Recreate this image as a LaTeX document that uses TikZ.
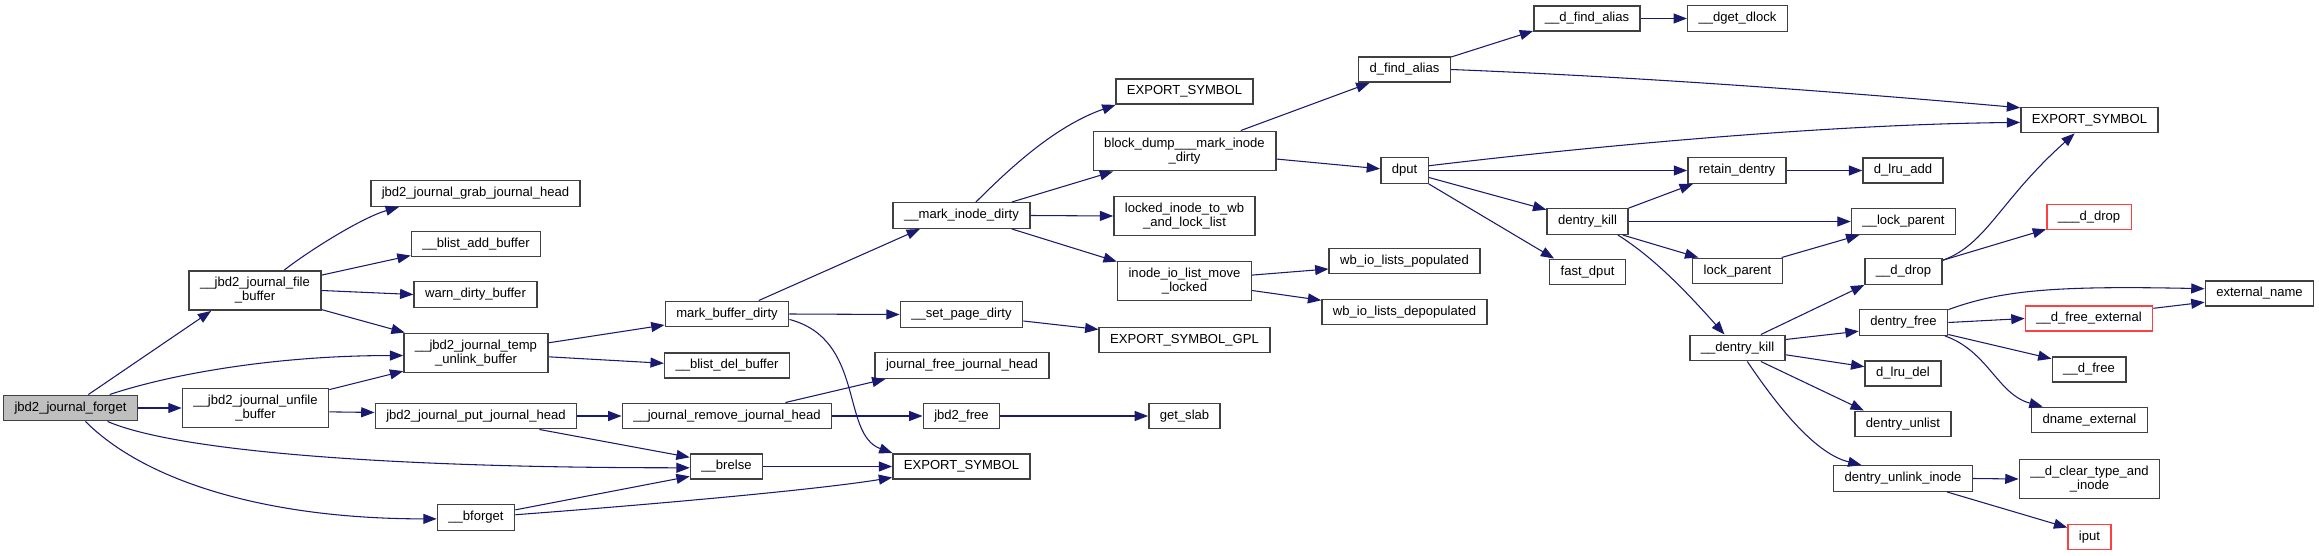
\documentclass[tikz,border=0pt]{standalone}
\usepackage{fontspec}
\setsansfont{Liberation Sans}
\usepackage{tikz}
\usetikzlibrary{arrows.meta}
\definecolor{edgeblue}{RGB}{25,25,112}
\definecolor{boxline}{RGB}{64,64,64}
\definecolor{rootfill}{RGB}{191,191,191}
\definecolor{extred}{RGB}{255,64,64}

\begin{document}
\begin{tikzpicture}[x=0.75pt,y=-0.75pt,font=\fontsize{9.8}{10.5}\sffamily,
  fn/.style={draw=boxline,line width=1.1pt,fill=white,rectangle,inner xsep=8.25pt,
    inner ysep=5pt,minimum height=19pt,align=center},
  ext/.style={fn,draw=extred},
  call/.style={draw=edgeblue,line width=0.8pt,-{Triangle[length=10pt,width=7.5pt]}}]
  \useasboundingbox (0,0) rectangle (2319,556);
  % ---- caller ----
  \node[fn,fill=rootfill] (fg) at (70.5,408) {jbd2\_journal\_forget};
  % ---- first level ----
  \node[fn] (fb) at (255,290.5) {\_\_jbd2\_journal\_file\\\_buffer};
  \node[fn] (uf) at (255.5,408) {\_\_jbd2\_journal\_unfile\\\_buffer};
  % ---- second level ----
  \node[fn] (gjh) at (475.5,193.5) {jbd2\_journal\_grab\_journal\_head};
  \node[fn] (bab) at (476,244) {\_\_blist\_add\_buffer};
  \node[fn] (wdb) at (475.5,294.5) {warn\_dirty\_buffer};
  \node[fn] (tu) at (476,353) {\_\_jbd2\_journal\_temp\\\_unlink\_buffer};
  \node[fn] (pjh) at (476,416) {jbd2\_journal\_put\_journal\_head};
  \node[fn] (bfg) at (476,517.5) {\_\_bforget};
  % ---- third level ----
  \node[fn] (mbd) at (727,314) {mark\_buffer\_dirty};
  \node[fn] (bdb) at (727,365.5) {\_\_blist\_del\_buffer};
  \node[fn] (rjh) at (727,416) {\_\_journal\_remove\_journal\_head};
  \node[fn] (brl) at (726.5,466.5) {\_\_brelse};
  % ---- fourth level ----
  \node[fn] (mid) at (961.5,215.5) {\_\_mark\_inode\_dirty};
  \node[fn] (spd) at (961.5,314.5) {\_\_set\_page\_dirty};
  \node[fn] (fjh) at (962,365.5) {journal\_free\_journal\_head};
  \node[fn] (jfree) at (961.5,416) {jbd2\_free};
  \node[fn] (esA) at (961.5,466.5) {EXPORT\_SYMBOL};
  % ---- fifth level ----
  \node[fn] (esB) at (1184.5,91.5) {EXPORT\_SYMBOL};
  \node[fn] (bdm) at (1184.5,151) {block\_dump\_\_\_mark\_inode\\\_dirty};
  \node[fn] (lit) at (1184.5,216) {locked\_inode\_to\_wb\\\_and\_lock\_list};
  \node[fn] (iom) at (1184.5,281) {inode\_io\_list\_move\\\_locked};
  \node[fn] (gpl) at (1184.5,340) {EXPORT\_SYMBOL\_GPL};
  \node[fn] (slab) at (1184.5,416) {get\_slab};
  % ---- sixth level ----
  \node[fn] (dfa) at (1404.5,69.5) {d\_find\_alias};
  \node[fn] (dput) at (1404.5,170.5) {dput};
  \node[fn] (wbp) at (1404.5,261) {wb\_io\_lists\_populated};
  \node[fn] (wbd) at (1404.5,312) {wb\_io\_lists\_depopulated};
  % ---- seventh level ----
  \node[fn] (udfa) at (1587,18.5) {\_\_d\_find\_alias};
  \node[fn] (dk) at (1587.5,221.5) {dentry\_kill};
  \node[fn] (fdp) at (1587.5,272) {fast\_dput};
  % ---- eighth level ----
  \node[fn] (dgd) at (1737.5,18.5) {\_\_dget\_dlock};
  \node[fn] (rtd) at (1737,170.5) {retain\_dentry};
  \node[fn] (lp) at (1737.5,271) {lock\_parent};
  \node[fn] (udk) at (1737.5,348) {\_\_dentry\_kill};
  % ---- ninth level ----
  \node[fn] (lra) at (1903,170.5) {d\_lru\_add};
  \node[fn] (ulp) at (1903.5,221.5) {\_\_lock\_parent};
  \node[fn] (udd) at (1903.5,271.5) {\_\_d\_drop};
  \node[fn] (dfr) at (1903.5,322.5) {dentry\_free};
  \node[fn] (lrd) at (1903,373.5) {d\_lru\_del};
  \node[fn] (dul) at (1903,424) {dentry\_unlist};
  \node[fn] (dui) at (1903,478.5) {dentry\_unlink\_inode};
  % ---- tenth level ----
  \node[fn] (esC) at (2089.5,120) {EXPORT\_SYMBOL};
  \node[ext] (uuudd) at (2089,217) {\_\_\_d\_drop};
  \node[ext] (dfe) at (2089,318.5) {\_\_d\_free\_external};
  \node[fn] (udf) at (2089,369.5) {\_\_d\_free};
  \node[fn] (dne) at (2089.5,420) {dname\_external};
  \node[fn] (dct) at (2089.5,479) {\_\_d\_clear\_type\_and\\\_inode};
  \node[ext] (iput) at (2089.5,537) {iput};
  \node[fn] (exn) at (2259.5,293.5) {external\_name};
  % ---- calls ----
  \draw[call] (fg.37) -- (fb.205);
  \draw[call] (fg.19) .. controls +(60,-20) and +(-130,0) .. (tu.182);
  \draw[call] (fg.east) -- (uf.west);
  \draw[call] (fg.340) .. controls +(70,30) and +(-300,0) .. (brl.182);
  \draw[call] (fg.318) .. controls +(60,60) and +(-170,0) .. (bfg.182);
  \draw[call] (fb.35) .. controls +(30,-23) and +(-35,10) .. (gjh.190);
  \draw[call] (fb.13) -- (bab.190);
  \draw[call] (fb.east) -- (wdb.west);
  \draw[call] (fb.344) -- (tu.164);
  \draw[call] (uf.14) -- (tu.194);
  \draw[call] (uf.357) -- (pjh.178);
  \draw[call] (tu.8) -- (mbd.190);
  \draw[call] (tu.357) -- (bdb.178);
  \draw[call] (pjh.east) -- (rjh.west);
  \draw[call] (pjh.348) -- (brl.166);
  \draw[call] (bfg.11) -- (brl.195);
  \draw[call] (bfg.4) .. controls +(120,-9) and +(-80,13) .. (esA.189);
  \draw[call] (brl.east) -- (esA.west);
  \draw[call] (mbd.23) -- (mid.198);
  \draw[call] (mbd.east) -- (spd.west);
  \draw[call] (mbd.355) .. controls +(76,20) and +(-52,-19) .. (esA.169);
  \draw[call] (rjh.13) -- (fjh.190);
  \draw[call] (rjh.east) -- (jfree.west);
  \draw[call] (jfree.east) -- (slab.west);
  \draw[call] (spd.354) -- (gpl.173);
  \draw[call] (mid.43) .. controls +(35,-35) and +(-60,21) .. (esB.191);
  \draw[call] (mid.15) -- (bdm.196);
  \draw[call] (mid.east) -- (lit.west);
  \draw[call] (mid.345) -- (iom.164);
  \draw[call] (bdm.20) -- (dfa.201);
  \draw[call] (bdm.355) -- (dput.176);
  \draw[call] (iom.5) -- (wbp.186);
  \draw[call] (iom.352) -- (wbd.172);
  \draw[call] (dfa.15) -- (udfa.193);
  \draw[call] (dfa.east) .. controls +(200,8) and +(-170,-15) .. (esC.170);
  \draw[call] (udfa.east) -- (dgd.west);
  \draw[call] (dput.11) .. controls +(150,-18) and +(-200,2) .. (esC.182);
  \draw[call] (dput.east) -- (rtd.west);
  \draw[call] (dput.344) -- (dk.164);
  \draw[call] (dput.331) -- (fdp.158);
  \draw[call] (dk.18) -- (rtd.197);
  \draw[call] (dk.east) -- (ulp.west);
  \draw[call] (dk.339) -- (lp.161);
  \draw[call] (dk.336) .. controls +(35,22) and +(-40,-45) .. (udk.134);
  \draw[call] (rtd.east) -- (lra.west);
  \draw[call] (lp.17) -- (ulp.197);
  \draw[call] (udk.30) -- (udd.199);
  \draw[call] (udk.10) -- (dfr.191);
  \draw[call] (udk.352) -- (lrd.170);
  \draw[call] (udk.330) -- (dul.161);
  \draw[call] (udk.306) .. controls +(33,49) and +(-45,-11) .. (dui.162);
  \draw[call] (udd.16) .. controls +(44,-16) and +(-75,67) .. (esC.222);
  \draw[call] (udd.16) -- (uuudd.196);
  \draw[call] (dfr.16) .. controls +(54,-20) and +(-146,-3) .. (exn.175);
  \draw[call] (dfr.east) -- (dfe.west);
  \draw[call] (dfr.345) -- (udf.164);
  \draw[call] (dfr.342) .. controls +(43,15) and +(-45,-12) .. (dne.164);
  \draw[call] (dfe.9) -- (exn.189);
  \draw[call] (dui.east) -- (dct.west);
  \draw[call] (dui.343) -- (iput.157);
\end{tikzpicture}
\end{document}
